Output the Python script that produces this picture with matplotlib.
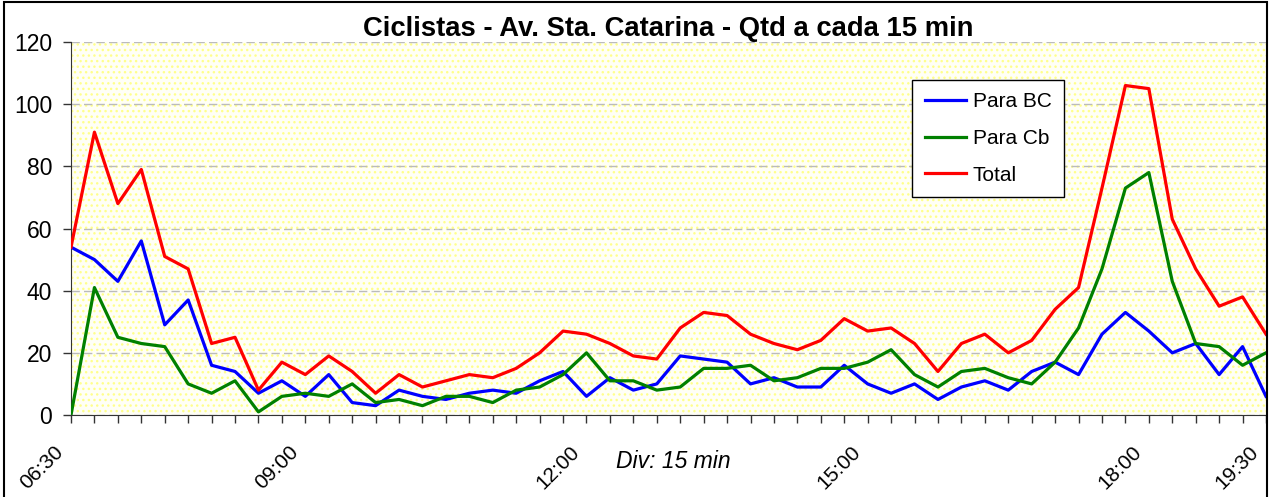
import matplotlib
matplotlib.use("Agg")
import matplotlib.pyplot as plt
import matplotlib.transforms as mtrans
from matplotlib.patches import Rectangle

# Ciclistas - contagem a cada 15 min (06:30 ... 19:30)
para_bc = [54, 50, 43, 56, 29, 37, 16, 14, 7, 11, 6, 13, 4, 3, 8, 6, 5, 7, 8, 7,
           11, 14, 6, 12, 8, 10, 19, 18, 17, 10, 12, 9, 9, 16, 10, 7, 10, 5, 9, 11,
           8, 14, 17, 13, 26, 33, 27, 20, 23, 13, 22, 6]
para_cb = [0, 41, 25, 23, 22, 10, 7, 11, 1, 6, 7, 6, 10, 4, 5, 3, 6, 6, 4, 8,
           9, 13, 20, 11, 11, 8, 9, 15, 15, 16, 11, 12, 15, 15, 17, 21, 13, 9, 14, 15,
           12, 10, 17, 28, 47, 73, 78, 43, 23, 22, 16, 20]
total = [54, 91, 68, 79, 51, 47, 23, 25, 8, 17, 13, 19, 14, 7, 13, 9, 11, 13, 12, 15,
         20, 27, 26, 23, 19, 18, 28, 33, 32, 26, 23, 21, 24, 31, 27, 28, 23, 14, 23, 26,
         20, 24, 34, 41, 73, 106, 105, 63, 47, 35, 38, 26]
label_pos = [0, 10, 22, 34, 46, 51]
label_txt = ["06:30", "09:00", "12:00", "15:00", "18:00", "19:30"]

plt.rcParams['font.family'] = ['Liberation Sans', 'DejaVu Sans']

W, H = 1270, 497
fig = plt.figure(figsize=(W / 100, H / 100), dpi=100)
ax = fig.add_axes([71 / W, (H - 415) / H, (1266 - 71) / W, (415 - 42) / H])

# fundo amarelado com textura
ax.add_patch(Rectangle((0, 0), 1, 1, transform=ax.transAxes, facecolor='#FFFFF6',
                       edgecolor='#FFFF8C', hatch='...', linewidth=0, zorder=0))

x = list(range(len(total)))
ax.plot(x, para_bc, color='#0000FF', lw=2.3, label='Para BC', zorder=3)
ax.plot(x, para_cb, color='#008000', lw=2.3, label='Para Cb', zorder=3)
ax.plot(x, total, color='#FF0000', lw=2.3, label='Total', zorder=3)

ax.set_xlim(0, len(total) - 1)
ax.set_ylim(0, 120)
ax.set_yticks(range(0, 121, 20))
ax.set_xticks(x)
ax.set_xticklabels([])
# rotulos de hora (so alguns), girados 45 graus
shift = mtrans.ScaledTranslation(-17 / 100, -27 / 100, fig.dpi_scale_trans)
for p, t in zip(label_pos, label_txt):
    ax.text(p, 0, t, transform=ax.get_xaxis_transform() + shift, rotation=45,
            ha='right', va='top', rotation_mode='anchor', fontsize=15, clip_on=False)
ax.tick_params(axis='x', length=6, width=1, color='#333333')
ax.tick_params(axis='y', length=6, width=1, color='#333333', labelsize=16.5, pad=7.5)
ax.yaxis.grid(True, color='#BBBBBB', linestyle=(0, (6, 3)), lw=1)
ax.set_axisbelow(True)
for s in ['top', 'right']:
    ax.spines[s].set_visible(False)
for s in ['left', 'bottom']:
    ax.spines[s].set_color('#333333')

ax.set_title('Ciclistas - Av. Sta. Catarina - Qtd a cada 15 min', fontsize=19.7,
             fontweight='bold', pad=3)
fig.text(673 / W, 1 - 461 / H, 'Div: 15 min', fontsize=16.5, style='italic',
         ha='center', va='center')

leg = ax.legend(loc='upper left', bbox_to_anchor=(0.704, 0.899), fontsize=15,
                frameon=True, fancybox=False, framealpha=1, edgecolor='black',
                borderaxespad=0, handlelength=2.0, handletextpad=0.3,
                labelspacing=0.85, borderpad=0.6)
leg.get_frame().set_linewidth(1)

# moldura do grafico
fig.add_artist(Rectangle((4 / W, -0.01), (1267 - 4) / W, 1 - 2 / H + 0.01,
                         transform=fig.transFigure, fill=False, edgecolor='black', lw=1.5))

fig.savefig('out.png', dpi=100)
